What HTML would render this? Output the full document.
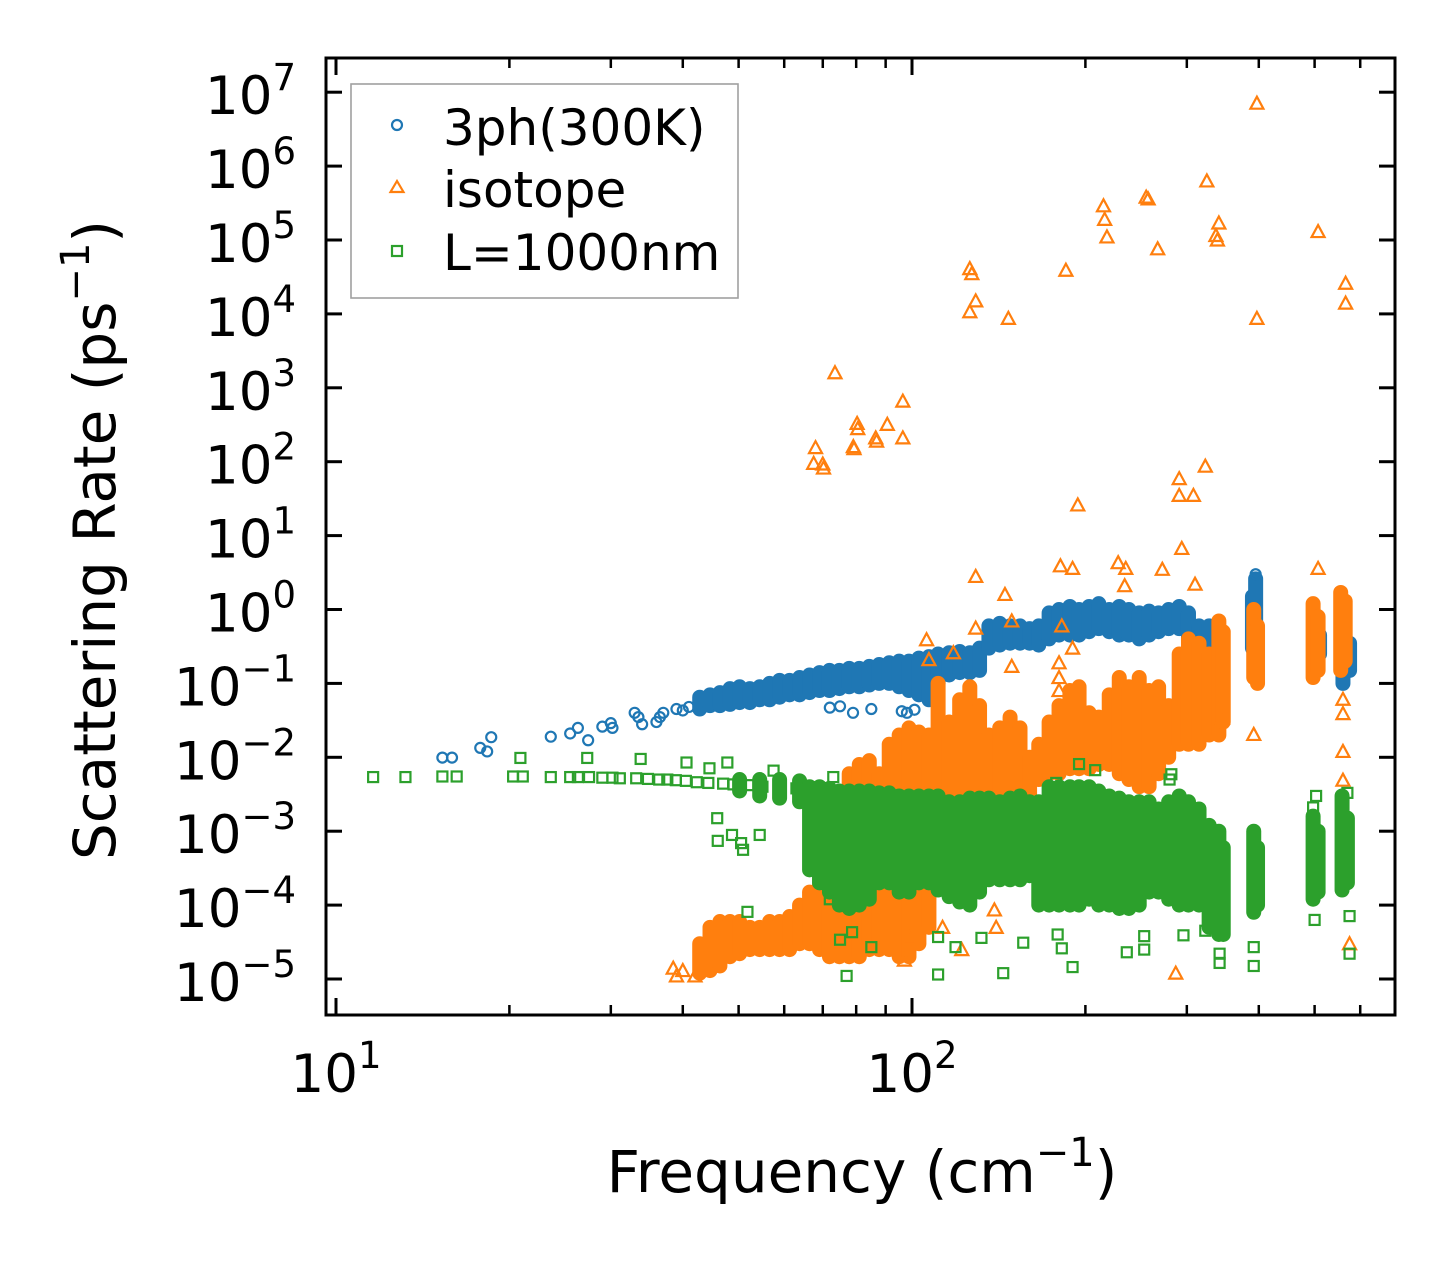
<!DOCTYPE html>
<html><head><meta charset="utf-8"><title>Scattering rate chart</title>
<style>
html,body{margin:0;padding:0;background:#fff;}
svg{display:block;font-family:"DejaVu Sans","Liberation Sans",sans-serif;}
</style></head>
<body>
<svg id="chart" width="1455" height="1265" viewBox="0 0 1455 1265">
<rect x="0" y="0" width="1455" height="1265" fill="#fff"/>
<g id="plot"></g>
<g id="axes"></g>
<g id="legend">
  <rect x="351" y="84" width="387" height="214" fill="#fff" fill-opacity="0.8" stroke="#a0a0a0" stroke-width="1.6"/>
  <g>
    <circle cx="397" cy="125" r="5" fill="none" stroke="#1f77b4" stroke-width="2.2"/>
    <text x="443" y="145" font-size="50" fill="#000">3ph(300K)</text>
  </g>
  <g>
    <polygon points="397,181 403.5,192 390.5,192" fill="none" stroke="#ff7f0e" stroke-width="2.2"/>
    <text x="443" y="207" font-size="50" fill="#000">isotope</text>
  </g>
  <g>
    <rect x="392" y="246" width="10" height="10" fill="none" stroke="#2ca02c" stroke-width="2.2"/>
    <text x="443" y="270" font-size="50" fill="#000">L=1000nm</text>
  </g>
</g>
</svg>
<script>
// ---- data ----
const yTickExps = [-5,-4,-3,-2,-1,0,1,2,3,4,5,6,7];
const xTickExps = [1,2];
const xMinorTicks = [20,30,40,50,60,70,80,90,200,300,400,500,600];

// 3ph(300K) isolated points
const blueX = [15.3,15.9,17.8,18.6,18.3,23.6,25.5,26.3,27.4,29,30,30.2,33,33.5,34,36,36.5,37,39,40,41,72,75,79,85,101,98,96,395];
const blueY = [0.0099,0.0099,0.0134,0.0187,0.012,0.019,0.021,0.025,0.017,0.026,0.029,0.025,0.04,0.035,0.028,0.03,0.035,0.04,0.045,0.043,0.048,0.047,0.049,0.04,0.045,0.044,0.04,0.042,3.0];
// 3ph dense band columns
const blueBandF  = [42.8,44.6,46.4,48.3,50.2,52.3,54.4,56.6,58.9,61.3,63.8,66.4,69.1,71.9,74.8,77.8,81.0,84.3,87.7,91.3,95.0,98.8,102.8,107,111,116,121,126,131,136,142,148,154,160,166,173,180,188,195,203,211,220,229,238,248,258,268,279,291,302,315,328,341,390,395,500,510,560,575];
const blueBandLo = [0.045,0.05,0.05,0.052,0.055,0.055,0.06,0.06,0.065,0.07,0.07,0.075,0.08,0.08,0.085,0.09,0.09,0.095,0.1,0.1,0.09,0.08,0.07,0.06,0.1,0.13,0.14,0.14,0.15,0.3,0.33,0.35,0.35,0.35,0.33,0.4,0.45,0.45,0.45,0.5,0.55,0.5,0.45,0.45,0.4,0.45,0.5,0.55,0.55,0.4,0.25,0.25,0.3,0.3,0.2,0.2,0.25,0.1,0.15];
const blueBandHi = [0.065,0.07,0.075,0.085,0.09,0.085,0.09,0.1,0.11,0.11,0.12,0.13,0.14,0.15,0.15,0.16,0.16,0.17,0.18,0.19,0.2,0.2,0.22,0.23,0.25,0.26,0.27,0.26,0.3,0.6,0.65,0.6,0.6,0.55,0.6,0.9,1.0,1.1,1.0,1.1,1.2,1.0,1.1,1.0,0.9,0.95,0.9,1.0,1.1,0.9,0.6,0.6,0.5,1.5,2.6,0.55,0.45,0.35,0.35];

// isotope isolated points
const orangeX = [397,325,255,257,215,216,218,267,341,339,337,507,566,566,397,126,127,129,126,147,185,73.5,96.4,80.3,80.5,90.6,96.4,79.1,79.3,86.5,86.8,68,67.5,70,70.2,323,291,291,308,194,294,129,145,106,107,129,149,149,118,181,190,228,235,272,310,234,182,190,180,180,180,507,392,560,560,560,560,287,575,346,39,40,42,38.5,139,140,122,99,97,113];
const orangeY = [7.1e6,6.3e5,3.8e5,3.6e5,2.9e5,1.9e5,1.1e5,7.6e4,1.7e5,1.0e5,1.15e5,1.3e5,2.6e4,1.4e4,8.7e3,4.1e4,3.5e4,1.5e4,1.07e4,8.7e3,3.9e4,1.6e3,6.6e2,3.3e2,2.8e2,3.2e2,2.1e2,1.6e2,1.5e2,2.1e2,1.9e2,1.55e2,95,93,82,87,59,35,35,26,6.7,2.8,1.6,0.39,0.21,0.56,0.17,0.7,0.26,3.9,3.6,4.3,3.6,3.5,2.2,2.1,0.6,0.3,0.19,0.12,0.08,3.6,0.0204,0.012,0.0049,0.039,0.061,1.2e-5,3.0e-5,0.034,1.1e-5,1.3e-5,1.1e-5,1.4e-5,8.6e-5,5.0e-5,2.5e-5,3.6e-5,1.8e-5,5e-5];
// isotope dense columns
const orangeBandF  = [42.8,44.6,46.4,48.3,50.2,52.3,54.4,56.6,58.9,61.3,63.8,66.4,69.1,71.9,74.8,77.8,81.0,84.3,87.7,91.3,95.0,98.8,102.8,107,77.8,81.0,84.3,87.7,91.3,95.0,98.8,102.8,107,111,116,121,126,131,136,142,148,154,160,166,173,180,188,195,203,211,220,229,238,248,258,268,279,291,302,315,328,341,347,392,398,497,507,555,565];
const orangeBandLo = [1.2e-5,1.3e-5,1.5e-5,2e-5,2.2e-5,2.5e-5,2.5e-5,2.5e-5,2.5e-5,2.5e-5,3e-5,3e-5,2.5e-5,2e-5,2e-5,2e-5,2e-5,2.5e-5,2.5e-5,2.5e-5,2e-5,2e-5,3e-5,5e-5,2e-3,2e-3,2e-3,2e-3,2e-3,2e-3,2e-3,2e-3,3e-3,1e-3,1e-3,1e-3,1e-3,1e-3,1e-3,1e-3,1e-3,1e-3,2e-3,5e-3,6e-3,6e-3,7e-3,7e-3,7e-3,8e-3,8e-3,6e-3,5e-3,4e-3,4e-3,6e-3,0.01,0.015,0.015,0.015,0.02,0.02,0.03,0.12,0.1,0.12,0.15,0.15,0.2];
const orangeBandHi = [3e-5,5e-5,6e-5,6e-5,6e-5,5e-5,5e-5,6e-5,6e-5,7e-5,1e-4,1.5e-4,2.5e-4,4e-4,5e-4,3e-4,4e-4,3e-4,3e-4,4e-4,5e-4,6e-4,4e-4,3e-4,6e-3,8e-3,9e-3,6e-3,0.015,0.02,0.025,0.022,0.02,0.1,0.03,0.06,0.09,0.05,0.02,0.025,0.035,0.025,0.01,0.015,0.03,0.05,0.08,0.09,0.04,0.035,0.07,0.12,0.09,0.12,0.08,0.09,0.05,0.25,0.4,0.35,0.25,0.7,0.5,1.0,0.6,1.2,0.8,1.7,1.3];

// L=1000nm isolated points
const greenX = [11.6,13.2,15.3,16.2,20.3,21.1,23.6,25.5,26.3,27.5,29,30.2,31.1,33.2,34.8,36.4,37.6,38.9,40.5,42.3,44.3,20.9,27.3,33.8,40.6,44.5,47.8,57.5,73,46,48.7,50.9,50.5,45.9,54.4,111,144,190,392,392,342,342,575,575,156,182,179,236,253,253,296,119,132,111,323,500,195,208,282,280,178,503,570,51.8,78.7,75,85,77,72,497,47,49,52,55,59,63];
const greenY = [0.0054,0.0054,0.0055,0.0055,0.0055,0.0055,0.0054,0.0054,0.0054,0.0054,0.0053,0.0053,0.0052,0.0052,0.0051,0.005,0.005,0.0049,0.0048,0.0046,0.0045,0.0098,0.0098,0.0095,0.0085,0.0071,0.0085,0.0066,0.0054,7.4e-4,8.9e-4,5.6e-4,6.9e-4,1.5e-3,8.9e-4,1.15e-5,1.2e-5,1.45e-5,1.5e-5,2.7e-5,1.65e-5,2.2e-5,2.2e-5,7.1e-5,3.1e-5,2.6e-5,4.0e-5,2.3e-5,2.5e-5,3.8e-5,3.9e-5,2.7e-5,3.6e-5,3.7e-5,4.5e-5,6.3e-5,0.0081,0.0067,0.0059,0.005,0.0045,0.003,0.0033,8.1e-5,4.3e-5,3.4e-5,2.7e-5,1.1e-5,1.2e-4,2.1e-3,0.0044,0.0043,0.0042,0.004,0.0039,0.0038];
// L=1000nm dense columns
const greenBandF  = [50.2,54.4,58.9,63.8,66.4,69.1,71.9,74.8,77.8,81.0,84.3,87.7,91.3,95.0,98.8,102.8,107,111,116,121,126,131,136,142,148,154,160,166,173,180,188,195,203,211,220,229,238,248,258,268,279,291,302,315,328,341,347,392,398,497,507,558,570];
const greenBandLo = [3.5e-3,3e-3,2.8e-3,2.5e-3,3e-4,2e-4,1.5e-4,1e-4,9e-5,1e-4,1.2e-4,2e-4,2e-4,1.5e-4,1.5e-4,2e-4,2e-4,1.6e-4,1.3e-4,1.1e-4,1e-4,1.5e-4,2.2e-4,2.2e-4,2.2e-4,2.2e-4,2.5e-4,1e-4,1e-4,1e-4,1e-4,1e-4,1.2e-4,1e-4,1e-4,9e-5,9e-5,1e-4,1.5e-4,1.5e-4,1.2e-4,1e-4,1e-4,1e-4,5e-5,4e-5,4e-5,8e-5,1e-4,1.2e-4,1.5e-4,1.6e-4,2e-4];
const greenBandHi = [5e-3,5e-3,5e-3,4.8e-3,4e-3,4e-3,3.8e-3,3.5e-3,3.5e-3,3.5e-3,3.5e-3,3.3e-3,3.3e-3,3e-3,3e-3,3e-3,3e-3,3e-3,2.5e-3,2.5e-3,2.8e-3,2.8e-3,2.8e-3,2.5e-3,2.8e-3,3e-3,2.5e-3,2.5e-3,4e-3,4e-3,4e-3,4e-3,4e-3,3.5e-3,3e-3,2.8e-3,2.5e-3,2.5e-3,2.5e-3,2e-3,2.5e-3,3e-3,2.5e-3,2e-3,1.2e-3,1e-3,6e-4,1.0e-3,6e-4,1.6e-3,1e-3,3e-3,1.5e-3];

// ---- scales ----
const PX0 = 336, PXD = 576;       // x: 10^1 at 336, px per decade
const PY0 = 979, PYD = 73.9;      // y: 10^-5 at 979, px per decade
const L = 326, R = 1395, T = 58, B = 1015;
function X(f){ return PX0 + PXD*(Math.log10(f) - 1); }
function Y(v){ return PY0 - PYD*(Math.log10(v) + 5); }

const NS = "http://www.w3.org/2000/svg";
const plot = document.getElementById('plot');
const axes = document.getElementById('axes');
function mk(tag, attrs, parent){
  const e = document.createElementNS(NS, tag);
  for (const k in attrs) e.setAttribute(k, attrs[k]);
  parent.appendChild(e);
  return e;
}

const defs = mk('defs', {}, document.getElementById('chart'));
const cp = mk('clipPath', {id:'clip'}, defs);
mk('rect', {x:L, y:T, width:R-L, height:B-T}, cp);
plot.setAttribute('clip-path', 'url(#clip)');

function bands(F, Lo, Hi, color, name){
  const g = mk('g', {}, plot);
  
  
  for (let i = 0; i < F.length; i++){
    const ln = mk('line', {x1:X(F[i]), x2:X(F[i]), y1:Y(Lo[i]), y2:Y(Hi[i]), stroke:color, 'stroke-width':15, 'stroke-linecap':'round'}, g);
    
    
  }
}
function points(xs, ys, shape, color, name){
  const g = mk('g', {fill:'none', stroke:color, 'stroke-width':2.2}, plot);
  
  
  for (let i = 0; i < xs.length; i++){
    const cx = X(xs[i]), cy = Y(ys[i]);
    let m;
    if (shape === 'circle') m = mk('circle', {cx:cx, cy:cy, r:5}, g);
    else if (shape === 'tri') m = mk('polygon', {points:`${cx},${cy-6.5} ${cx+6.5},${cy+5.5} ${cx-6.5},${cy+5.5}`}, g);
    else m = mk('rect', {x:cx-5, y:cy-5, width:10, height:10}, g);
    
    
  }
}
bands(blueBandF, blueBandLo, blueBandHi, '#1f77b4', '3ph');
points(blueX, blueY, 'circle', '#1f77b4', '3ph');
bands(orangeBandF, orangeBandLo, orangeBandHi, '#ff7f0e', 'isotope');
points(orangeX, orangeY, 'tri', '#ff7f0e', 'isotope');
bands(greenBandF, greenBandLo, greenBandHi, '#2ca02c', 'boundary');
points(greenX, greenY, 'square', '#2ca02c', 'boundary');

// ---- axes frame ----
const frame = mk('rect', {x:L, y:T, width:R-L, height:B-T, fill:'none', stroke:'#000', 'stroke-width':3}, axes);



for (const e of yTickExps){
  const y = Y(Math.pow(10, e));
  const t1 = mk('line', {x1:L, x2:L+16, y1:y, y2:y, stroke:'#000', 'stroke-width':3}, axes);
  
  
  const t2 = mk('line', {x1:R-16, x2:R, y1:y, y2:y, stroke:'#000', 'stroke-width':3}, axes);
  
  
  const tx = mk('text', {x:296, y:y+22, 'text-anchor':'end', 'font-size':53, fill:'#000'}, axes);
  
  
  const s1 = mk('tspan', {}, tx); s1.textContent = '10';
  const s2 = mk('tspan', {dy:-24, 'font-size':37}, tx); s2.textContent = (e < 0 ? '\u2212' : '') + Math.abs(e);
}
for (const e of xTickExps){
  const x = X(Math.pow(10, e));
  const t1 = mk('line', {x1:x, x2:x, y1:B, y2:B-17, stroke:'#000', 'stroke-width':3}, axes);
  
  
  const t2 = mk('line', {x1:x, x2:x, y1:T, y2:T+17, stroke:'#000', 'stroke-width':3}, axes);
  
  
  const tx = mk('text', {x:x, y:1092, 'text-anchor':'middle', 'font-size':53, fill:'#000'}, axes);
  
  
  const s1 = mk('tspan', {}, tx); s1.textContent = '10';
  const s2 = mk('tspan', {dy:-24, 'font-size':37}, tx); s2.textContent = String(e);
}
for (const f of xMinorTicks){
  const x = X(f);
  const t1 = mk('line', {x1:x, x2:x, y1:B, y2:B-10, stroke:'#000', 'stroke-width':2.5}, axes);
  
  
  const t2 = mk('line', {x1:x, x2:x, y1:T, y2:T+10, stroke:'#000', 'stroke-width':2.5}, axes);
  
  
}
const xt = mk('text', {x:862, y:1192, 'text-anchor':'middle', 'font-size':58, fill:'#000'}, axes);


(function(){ const a = mk('tspan', {}, xt); a.textContent = 'Frequency (cm';
  const b = mk('tspan', {dy:-26, 'font-size':40}, xt); b.textContent = '\u22121';
  const c = mk('tspan', {dy:26}, xt); c.textContent = ')'; })();
const yt = mk('text', {x:0, y:0, 'text-anchor':'middle', 'font-size':58, fill:'#000', transform:'translate(115,540) rotate(-90)'}, axes);


(function(){ const a = mk('tspan', {}, yt); a.textContent = 'Scattering Rate (ps';
  const b = mk('tspan', {dy:-26, 'font-size':40}, yt); b.textContent = '\u22121';
  const c = mk('tspan', {dy:26}, yt); c.textContent = ')'; })();
</script>
</body></html>
